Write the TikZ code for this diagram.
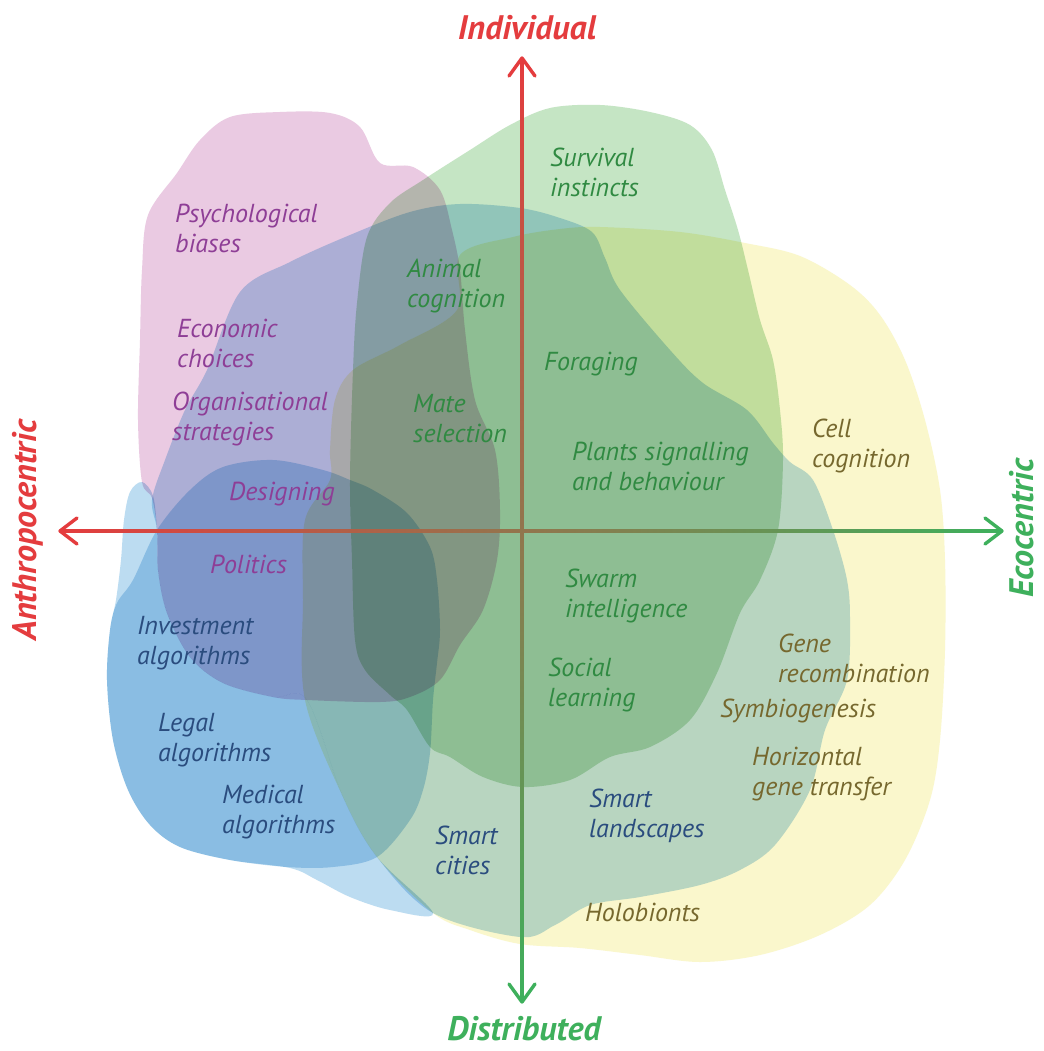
\documentclass[tikz,border=0pt]{standalone}
\usepackage{fontspec}
\setmainfont{PT Sans}
\definecolor{pinkb}{RGB}{234,202,226}
\definecolor{blueb}{RGB}{188,220,241}
\definecolor{lgb}{RGB}{197,229,196}
\definecolor{yelb}{RGB}{250,247,204}
\definecolor{txpurple}{RGB}{142,62,150}
\definecolor{txblue}{RGB}{42,76,126}
\definecolor{txgreen}{RGB}{48,138,66}
\definecolor{txolive}{RGB}{118,104,46}
\definecolor{axred}{RGB}{228,60,62}
\definecolor{axgreen}{RGB}{62,176,92}
\begin{document}
\begin{tikzpicture}[x=1pt,y=-1pt,
  blob/.style={blend mode=multiply},
  lab/.style={font=\fontsize{26}{30}\selectfont\itshape, align=left, inner sep=0pt, anchor=west},
  axlab/.style={font=\fontsize{34}{40}\selectfont\bfseries\itshape, inner sep=0pt},
  head/.style={line width=3.4pt, line cap=round, line join=round},
]
\useasboundingbox (0,0) rectangle (1043,1051);
\fill[white] (0,0) rectangle (1043,1051);

% yellow
\fill[blob, yelb] plot[smooth cycle, tension=0.55] coordinates {(600,227) (680,232) (745,243) (800,256) (850,285) (880,315) (905,360) (925,420) (940,490) (945,560) (945,650) (940,740) (930,800) (905,860) (870,905) (820,935) (760,955) (700,962) (640,955) (580,948) (520,944) (470,930) (433,913) (377,857) (343,797) (305,700) (303,600) (305,520) (330,480) (330,450) (335,400) (353,370) (400,345) (457,310) (460,255) (513,237) (560,229)};
% light green
\fill[blob, lgb] plot[smooth cycle, tension=0.55] coordinates {(600,105) (650,112) (690,125) (712,150) (725,190) (738,230) (748,270) (760,320) (773,360) (780,410) (783,460) (778,530) (760,580) (740,613) (717,673) (690,720) (650,747) (610,757) (570,780) (523,787) (483,777) (450,757) (430,747) (407,710) (390,695) (365,670) (355,640) (352,560) (350,480) (353,370) (357,303) (367,237) (390,203) (423,180) (470,150) (510,125) (550,108)};
% pink
\fill[blob, pinkb] plot[smooth cycle, tension=0.55] coordinates {(142,482) (138,420) (140,340) (142,270) (148,215) (177,173) (200,140) (230,117) (280,112) (330,113) (360,127) (380,163) (413,167) (440,190) (452,230) (460,270) (465,330) (475,400) (495,450) (500,510) (497,560) (483,610) (460,645) (440,680) (410,697) (380,702) (307,700) (273,697) (223,683) (190,657) (167,613) (158,570) (157,530) (152,498)};
% big blue
\fill[blob, blueb] plot[smooth cycle, tension=0.55] coordinates {(240,292) (290,262) (350,235) (410,212) (460,204) (520,208) (560,218) (592,232) (605,258) (620,290) (670,350) (703,383) (747,410) (773,443) (790,462) (813,480) (833,530) (847,580) (850,620) (847,680) (825,730) (810,790) (775,845) (740,870) (700,885) (640,897) (590,905) (555,925) (520,937) (433,913) (377,857) (343,797) (307,700) (273,697) (223,683) (190,657) (167,613) (158,570) (157,530) (152,500) (165,460) (185,410) (207,370)};
% left light blue
\fill[blob, blueb] plot[smooth cycle, tension=0.55] coordinates {(142,482) (153,496) (157,530) (158,570) (167,613) (190,657) (223,683) (273,697) (307,700) (343,797) (377,857) (433,913) (390,910) (350,897) (317,880) (290,868) (230,860) (180,847) (150,825) (128,790) (113,740) (107,680) (110,630) (116,600) (121,560) (124,520) (130,492)};
% algorithms blue
\fill[blob, blueb] plot[smooth cycle, tension=0.55] coordinates {(223,467) (273,460) (323,470) (350,480) (373,490) (407,513) (430,547) (437,580) (440,630) (437,663) (433,700) (430,753) (423,790) (410,820) (377,857) (333,867) (287,867) (230,860) (180,847) (150,825) (128,790) (113,740) (107,680) (110,630) (117,603) (133,580) (157,530) (190,490)};

% axes
\coordinate (L) at (60,531);
\coordinate (R) at (1002,531);
\coordinate (T) at (522,58);
\coordinate (B) at (522,1002);
\shade[left color=axred, right color=axgreen] (62,529.3) rectangle (1000,532.7);
\shade[top color=axred, bottom color=axgreen] (520.3,60) rectangle (523.7,1000);
\draw[head, axred] (509,76) -- (T) -- (535,76);
\draw[head, axgreen] (509,984) -- (B) -- (535,984);
\draw[head, axred] (77,518) -- (L) -- (77,544);
\draw[head, axgreen] (985,518) -- (R) -- (985,544);

\node[axlab, text=axred] (ind) at (527,28) {Individual};
\node[axlab, text=axgreen] (dis) at (524,1029) {Distributed};
\node[axlab, text=axred, rotate=90] (anth) at (28,530) {Anthropocentric};
\node[axlab, text=axgreen, rotate=90] (eco) at (1022,528) {Ecocentric};

% purple labels
\node[lab, text=txpurple] (psy) at (175,228) {Psychological\\biases};
\node[lab, text=txpurple] (eco1) at (177,343) {Economic\\choices};
\node[lab, text=txpurple] (org) at (172,419) {Organisational\\strategies};
\node[lab, text=txpurple] (des) at (229,494) {Designing};
\node[lab, text=txpurple] (pol) at (210,564) {Politics};
% blue labels
\node[lab, text=txblue] (inv) at (137,643) {Investment\\algorithms};
\node[lab, text=txblue] (leg) at (158,740) {Legal\\algorithms};
\node[lab, text=txblue] (med) at (222,812) {Medical\\algorithms};
\node[lab, text=txblue] (scit) at (435,850) {Smart\\cities};
\node[lab, text=txblue] (sland) at (589,816) {Smart\\landscapes};
% green labels
\node[lab, text=txgreen] (surv) at (550,172) {Survival\\instincts};
\node[lab, text=txgreen] (anim) at (407,286) {Animal\\cognition};
\node[lab, text=txgreen] (forg) at (544,364) {Foraging};
\node[lab, text=txgreen] (mate) at (413,419) {Mate\\selection};
\node[lab, text=txgreen] (plant) at (572,466) {Plants signalling\\and behaviour};
\node[lab, text=txgreen] (swarm) at (565,596) {Swarm\\intelligence};
\node[lab, text=txgreen] (soc) at (548,685) {Social\\learning};
% olive labels
\node[lab, text=txolive] (cell) at (812,446) {Cell\\cognition};
\node[lab, text=txolive] (gene) at (778,658) {Gene\\recombination};
\node[lab, text=txolive] (symb) at (720,711) {Symbiogenesis};
\node[lab, text=txolive] (hgt) at (752,774) {Horizontal\\gene transfer};
\node[lab, text=txolive] (holo) at (585,912) {Holobionts};
\end{tikzpicture}
\end{document}
